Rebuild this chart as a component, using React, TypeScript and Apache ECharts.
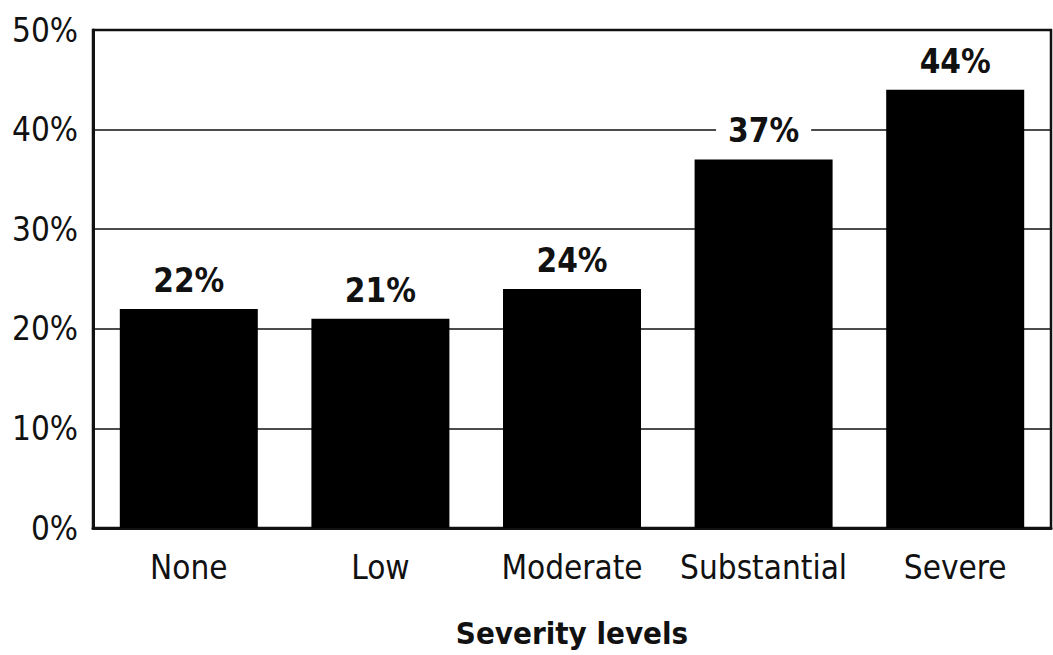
import React, { useEffect, useRef } from "react";
import * as echarts from "echarts";

const categories = ["None", "Low", "Moderate", "Substantial", "Severe"];
const values = [22, 21, 24, 37, 44];
const yTicks = [0, 10, 20, 30, 40, 50];
const xAxisTitle = "Severity levels";

const FONT = "'Liberation Sans Narrow', 'DejaVu Sans Condensed', 'Liberation Sans', sans-serif";

export default function App() {
  const ref = useRef<HTMLDivElement>(null);
  useEffect(() => {
    if (!ref.current) return;
    const chart = echarts.init(ref.current, null, { renderer: "svg" });
    chart.setOption({
      animation: false,
      backgroundColor: "#ffffff",
      grid: {
        left: 93,
        right: 2,
        top: 30,
        bottom: 127,
        show: true,
        borderColor: "#111",
        borderWidth: 2.5,
        backgroundColor: "transparent",
      },
      xAxis: {
        type: "category",
        data: categories,
        name: xAxisTitle,
        nameLocation: "middle",
        nameGap: 89,
        nameTextStyle: { fontFamily: FONT, fontSize: 31, fontWeight: "bold", color: "#111" },
        axisLine: { show: true, lineStyle: { color: "#111", width: 3 } },
        axisTick: { show: false },
        axisLabel: {
          fontFamily: FONT,
          fontSize: 33,
          color: "#111",
          margin: 23,
          interval: 0,
          hideOverlap: false,
        },
      },
      yAxis: {
        type: "value",
        min: yTicks[0],
        max: yTicks[yTicks.length - 1],
        interval: 10,
        axisLine: { show: true, lineStyle: { color: "#111", width: 3 } },
        axisTick: { show: false },
        axisLabel: {
          fontFamily: FONT,
          fontSize: 33,
          color: "#111",
          margin: 15,
          formatter: (v: number) => `${v}%`,
        },
        splitLine: { show: true, lineStyle: { color: "#111", width: 1.6 } },
      },
      series: [
        {
          type: "bar",
          data: values,
          barWidth: 138,
          itemStyle: { color: "#000" },
          label: {
            show: true,
            position: "top",
            distance: 12,
            formatter: (p: any) => `${p.value}%`,
            fontFamily: FONT,
            fontSize: 33,
            fontWeight: "bold",
            color: "#111",
            backgroundColor: "#fff",
            padding: [0, 12, 0, 12],
          },
        },
      ],
    });
    return () => chart.dispose();
  }, []);
  return <div ref={ref} style={{ width: 1053, height: 655, position: "absolute", left: 0, top: 0 }} />;
}
